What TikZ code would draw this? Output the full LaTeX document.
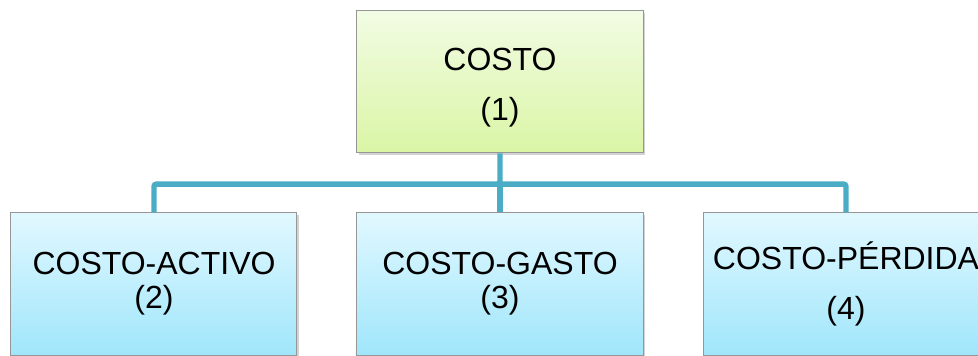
\documentclass[tikz,border=0pt]{standalone}
\usepackage{fontspec}
\setmainfont{Liberation Sans}
\usetikzlibrary{shadows, positioning}
\definecolor{linkblue}{RGB}{75,172,198}
\definecolor{edgegray}{RGB}{150,150,150}
\definecolor{greentop}{RGB}{242,252,228}
\definecolor{greenbot}{RGB}{218,245,165}
\definecolor{bluetop}{RGB}{225,248,255}
\definecolor{bluebot}{RGB}{160,230,251}
\tikzstyle{block}=[draw=edgegray,line width=0.75pt,rectangle,align=center,
  minimum width=214.5pt,minimum height=106.5pt,
  font=\fontsize{24}{25.5}\selectfont,
  drop shadow={shadow xshift=1.2pt,shadow yshift=-1.2pt,opacity=0.35}]
\tikzstyle{rootbox}=[block,top color=greentop,bottom color=greenbot]
\tikzstyle{leafbox}=[block,top color=bluetop,bottom color=bluebot]
\tikzstyle{link}=[draw=linkblue,line width=4.1pt,rounded corners=2pt]

\begin{document}
\begin{tikzpicture}[node distance=259.5pt]
    \useasboundingbox (-375pt,61.5pt) rectangle (358.5pt,-205.5pt);
    \node[rootbox] (costo) {\rule{0pt}{24.5pt}COSTO\\[12pt](1)};
    \node[leafbox, below of=costo, node distance=151.5pt] (gasto) {COSTO-GASTO\\(3)};
    \node[leafbox, left of=gasto] (activo) {COSTO-ACTIVO\\(2)};
    \node[leafbox, right of=gasto] (perdida) {COSTO-PÉRDIDA\\[12pt](4)};
    \coordinate[below=22.9pt of costo.south] (bus);
    \draw[link] (costo.south) -- (bus) -| (activo.north);
    \draw[link] (bus) -| (perdida.north);
    \draw[link] (bus) -- (gasto.north);
\end{tikzpicture}
\end{document}
